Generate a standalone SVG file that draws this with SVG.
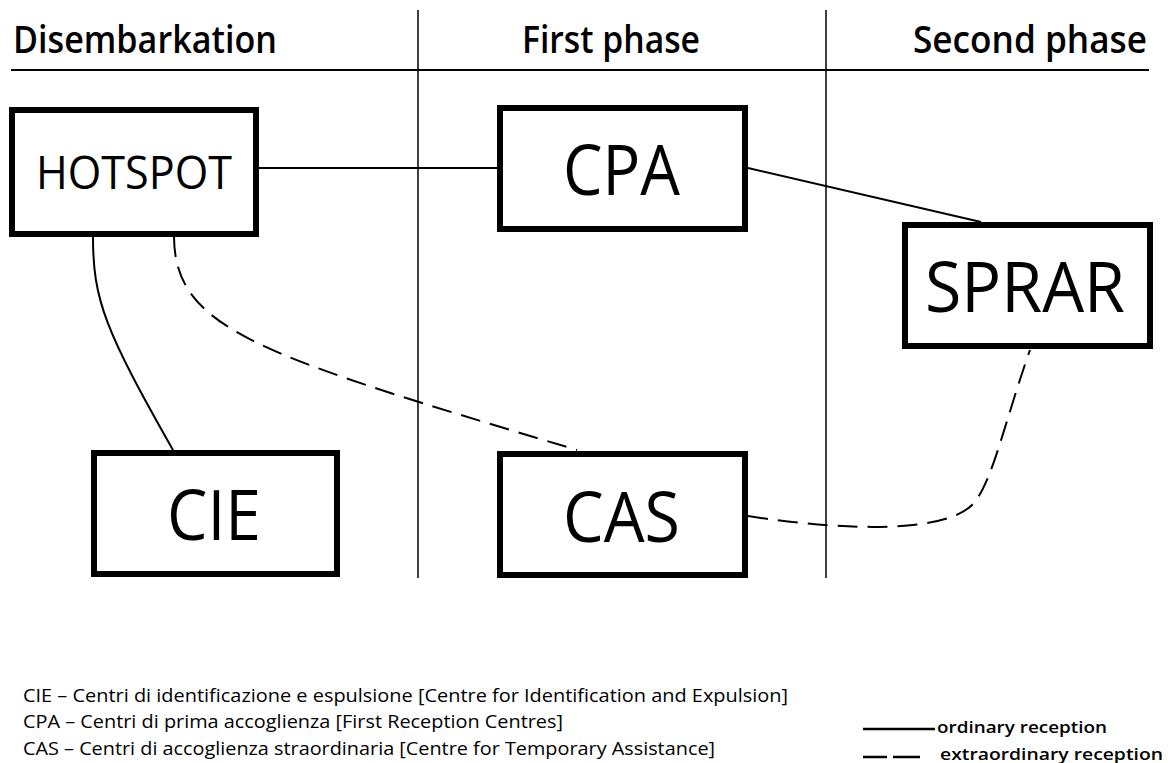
<svg xmlns="http://www.w3.org/2000/svg" width="1168" height="763" viewBox="0 0 1168 763">
<style>
.box{fill:#fff;stroke:#000;stroke-width:6}
.lbl{font-family:"Open Sans",Lato,"Liberation Sans",sans-serif;fill:#000}
.hdr{font-family:"Open Sans",Lato,"Liberation Sans",sans-serif;font-size:37px;fill:#000;font-weight:600}
.ord{fill:none;stroke:#000;stroke-width:2}
.ext{fill:none;stroke:#000;stroke-width:2;stroke-dasharray:20 10}
.div{stroke:#000;stroke-width:1.5}
.note{font-family:"Open Sans",Lato,"Liberation Sans",sans-serif;font-size:19px;fill:#000}
.leg{font-family:"Open Sans",Lato,"Liberation Sans",sans-serif;font-size:17px;fill:#000;font-weight:600}
</style>
<rect width="1168" height="763" fill="#fff"/>
<g id="grid">
<line class="div" x1="418" y1="10" x2="418" y2="578"/>
<line class="div" x1="826" y1="10" x2="826" y2="578"/>
<line x1="11" y1="70" x2="1149" y2="70" stroke="#000" stroke-width="2"/>
<text class="hdr" x="13" y="53" textLength="264" lengthAdjust="spacingAndGlyphs">Disembarkation</text>
<text class="hdr" x="522" y="53" textLength="178" lengthAdjust="spacingAndGlyphs">First phase</text>
<text class="hdr" x="913" y="53" textLength="234" lengthAdjust="spacingAndGlyphs">Second phase</text>
</g>
<g id="connectors">
<line class="ord" x1="259" y1="168" x2="497" y2="168"/>
<line class="ord" x1="748" y1="168" x2="981" y2="222"/>
<path class="ord" d="M93,237 C93,300 105,330 173,450"/>
<path class="ext" d="M174,237 C175,330 260,355 577,450"/>
<path class="ext" d="M748,516 C850,532 945,532 972,505 C992,485 1005,420 1030,350"/>
</g>
<g id="hotspot">
<rect class="box" x="12" y="110" width="244" height="124"/>
<text class="lbl" x="36" y="189" font-size="46" textLength="196" lengthAdjust="spacingAndGlyphs">HOTSPOT</text>
</g>
<g id="cpa">
<rect class="box" x="500" y="108" width="245" height="121"/>
<text class="lbl" x="563" y="195" font-size="70" textLength="117" lengthAdjust="spacingAndGlyphs">CPA</text>
</g>
<g id="sprar">
<rect class="box" x="905" y="225" width="245" height="121"/>
<text class="lbl" x="925" y="312" font-size="70" textLength="200" lengthAdjust="spacingAndGlyphs">SPRAR</text>
</g>
<g id="cie">
<rect class="box" x="94" y="453" width="243" height="121"/>
<text class="lbl" x="167" y="540" font-size="70" textLength="94" lengthAdjust="spacingAndGlyphs">CIE</text>
</g>
<g id="cas">
<rect class="box" x="500" y="454" width="245" height="121"/>
<text class="lbl" x="563" y="542" font-size="70" textLength="117" lengthAdjust="spacingAndGlyphs">CAS</text>
</g>
<g id="footnote">
<text class="note" x="23" y="702" textLength="765" lengthAdjust="spacingAndGlyphs">CIE – Centri di identificazione e espulsione [Centre for Identification and Expulsion]</text>
<text class="note" x="23" y="728" textLength="540" lengthAdjust="spacingAndGlyphs">CPA – Centri di prima accoglienza [First Reception Centres]</text>
<text class="note" x="23" y="755" textLength="692" lengthAdjust="spacingAndGlyphs">CAS – Centri di accoglienza straordinaria [Centre for Temporary Assistance]</text>
</g>
<g id="legend">
<line x1="863" y1="729" x2="935" y2="729" stroke="#000" stroke-width="2.5"/>
<text class="leg" x="937" y="733" textLength="170" lengthAdjust="spacingAndGlyphs">ordinary reception</text>
<line x1="863" y1="757" x2="887" y2="757" stroke="#000" stroke-width="2.5"/>
<line x1="893" y1="757" x2="920" y2="757" stroke="#000" stroke-width="2.5"/>
<text class="leg" x="940" y="760" textLength="223" lengthAdjust="spacingAndGlyphs">extraordinary reception</text>
</g>
</svg>
